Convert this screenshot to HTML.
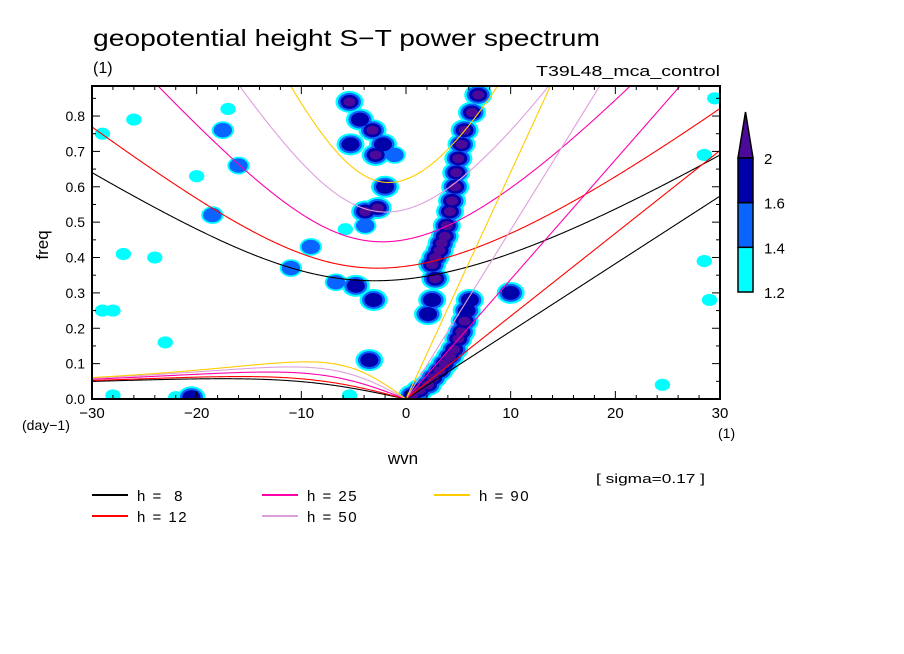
<!DOCTYPE html>
<html><head><meta charset="utf-8"><style>
body{margin:0;background:#fff;}
svg{display:block;font-family:"Liberation Sans",sans-serif;}
#legend text{white-space:pre;}
</style></head><body>
<svg id="chart" width="904" height="654" viewBox="0 0 904 654">
<text x="93" y="46" font-size="23" textLength="507" lengthAdjust="spacingAndGlyphs">geopotential height S−T power spectrum</text>
<text x="93" y="73" font-size="16">(1)</text>
<text x="536" y="76" font-size="15" textLength="184" lengthAdjust="spacingAndGlyphs">T39L48_mca_control</text>
<clipPath id="clip"><rect x="92" y="86" width="628" height="313"/></clipPath>
<g id="blobs" clip-path="url(#clip)"></g>
<g id="curves" clip-path="url(#clip)"></g>
<rect x="92" y="86" width="628" height="313" fill="none" stroke="#000" stroke-width="2"/>
<g id="axes"></g>
<text transform="translate(48,245) rotate(-90)" font-size="17" text-anchor="middle">freq</text>
<text x="22" y="430" font-size="14">(day−1)</text>
<text x="718" y="438" font-size="14">(1)</text>
<text x="403" y="464" font-size="17" text-anchor="middle">wvn</text>
<text x="596" y="483" font-size="13" textLength="109" lengthAdjust="spacingAndGlyphs">[ sigma=0.17 ]</text>
<g id="colorbar"></g>
<g id="legend"></g>
</svg>
<script>
const depths=[8,12,25,50,90];
const depthColors=["#000000","#ff0000","#ff00aa","#dda0dd","#ffcc00"];
const xTicks=[-30,-20,-10,0,10,20,30];
const yTicks=[0,0.1,0.2,0.3,0.4,0.5,0.6,0.7,0.8];
const cbLevels=[1.2,1.4,1.6,2];
const levelColors=["#00ffff","#0a64ff","#0000aa","#4b0a9a"];
// power blobs: wavenumber, frequency, level (1..4)
const blobK=[6.9,6.3,5.6,5.3,5.0,4.8,4.7,4.4,4.2,3.9,3.7,3.4,3.2,2.8,2.5,2.8,2.5,2.1,
 6.1,5.8,5.6,5.3,5.0,4.6,4.2,3.7,3.2,2.6,2.1,1.3,0.6,
 -5.4,-4.4,-3.2,-2.2,-2.9,-5.3,-1.1,-2.0,-2.7,-3.9,-3.9,-4.8,-3.1,-6.7,-5.8,
 -26,-29,-17,-17.5,-16,-20,-18.5,-9.1,-11,-24,-27,-29,-28,-23,-3.5,-5.4,24.5,28.5,29,29.5,28.5,10,-22,-28,-20.5];
const blobF=[0.86,0.81,0.76,0.72,0.68,0.64,0.60,0.56,0.53,0.49,0.46,0.44,0.42,0.40,0.38,0.34,0.28,0.24,
 0.28,0.25,0.22,0.19,0.17,0.14,0.12,0.10,0.08,0.06,0.04,0.025,0.01,
 0.84,0.79,0.76,0.72,0.69,0.72,0.69,0.6,0.54,0.53,0.49,0.32,0.28,0.33,0.48,
 0.79,0.75,0.82,0.76,0.66,0.63,0.52,0.43,0.37,0.4,0.41,0.25,0.25,0.16,0.11,0.01,0.04,0.39,0.28,0.85,0.69,0.30,0.005,0.01,0.005];
const blobL=[4,4,4,4,4,4,4,4,4,4,4,4,4,4,4,4,3,3,
 3,3,4,4,4,4,4,4,4,4,4,4,4,
 4,3,4,3,4,3,2,3,4,4,2,3,3,2,1,
 1,1,1,2,2,1,2,2,2,1,1,1,1,1,3,1,1,1,1,1,1,3,1,1,3];
const NS="http://www.w3.org/2000/svg";
const x0=92,x1=720,yb=399,yt=86,fmax=(399-86)/353.7;
const X=k=>x0+(k+30)/60*(x1-x0);
const Y=f=>yb-f/fmax*(yb-yt);
function el(t,a,p){const e=document.createElementNS(NS,t);for(const k in a)e.setAttribute(k,a[k]);p.appendChild(e);return e;}
const bg=document.getElementById('blobs');
const rx=[14,11.5,9,6],ry=[11,9,7,4.5];
for(let lv=0;lv<4;lv++){
 for(let i=0;i<blobK.length;i++){
  if(blobL[i]<=lv)continue;
  const sc=blobL[i]===1?0.55:(blobL[i]===2?0.8:1);
  const e=el('ellipse',{cx:X(blobK[i]),cy:Y(blobF[i]),rx:rx[lv]*sc,ry:ry[lv]*sc,fill:levelColors[lv]},bg);
  
  
 }
}
const cg=document.getElementById('curves');
const a=6.371e6,beta=2*7.292e-5/a,g=9.81,toCpd=86400/(2*Math.PI);
function roots(km,c){const p=-c*c*(km*km+3*beta/c),q=-beta*km*c*c;
 const m=2*Math.sqrt(-p/3),th=Math.acos(Math.max(-1,Math.min(1,3*q/(2*p)*Math.sqrt(-3/p))))/3;
 return [0,1,2].map(j=>m*Math.cos(th-2*Math.PI*j/3)).sort((u,v)=>u-v);}
depths.forEach((h,i)=>{
 const c=Math.sqrt(g*h);let ig=[],er=[],kv=[];
 for(let k=-30;k<=30.001;k+=0.1){const r=roots(k/a,c);
  ig.push(X(k)+','+Y(r[2]*toCpd));
  if(k<=0.001)er.push(X(k)+','+Y(Math.max(0,r[1])*toCpd));
  if(k>=-0.001)kv.push(X(k)+','+Y(k/a*c*toCpd));}
 [[ig,'ig-curve'],[er,'er-curve'],[kv,'kelvin-curve']].forEach(([pts,n])=>{
  const e=el('polyline',{points:pts.join(' '),fill:'none',stroke:depthColors[i],'stroke-width':1.1},cg);
  
  });
});
const ag=document.getElementById('axes');
for(let k=-30;k<=30;k+=2){const big=k%10===0;
 el('line',{x1:X(k),x2:X(k),y1:yb,y2:yb-(big?8:4),stroke:'#000'},ag);
 el('line',{x1:X(k),x2:X(k),y1:yt,y2:yt+(big?8:4),stroke:'#000'},ag);}
for(let f=0;f<=0.86;f+=0.05){const big=Math.round(f*20)%2===0;
 el('line',{x1:x0,x2:x0+(big?8:4),y1:Y(f),y2:Y(f),stroke:'#000'},ag);
 el('line',{x1:x1,x2:x1-(big?8:4),y1:Y(f),y2:Y(f),stroke:'#000'},ag);}
xTicks.forEach(k=>{const t=el('text',{x:X(k),y:418,'font-size':15,'text-anchor':'middle'},ag);t.textContent=k<0?'−'+(-k):k;
 });
yTicks.forEach(f=>{const t=el('text',{x:85,y:Y(f)+5,'font-size':14,'text-anchor':'end'},ag);t.textContent=f.toFixed(1);
 });
const cb=document.getElementById('colorbar');
const cbx=738,cbw=15,seg=44.7,cbBottom=292;
for(let i=0;i<3;i++){const e=el('rect',{x:cbx,y:cbBottom-(i+1)*seg,width:cbw,height:seg,fill:levelColors[i],stroke:'#000','stroke-width':1.5},cb);
 }
const tri=el('polygon',{points:`${cbx},${cbBottom-3*seg} ${cbx+cbw},${cbBottom-3*seg} ${cbx+cbw/2},112`,fill:levelColors[3],stroke:'#000','stroke-width':1.5},cb);

cbLevels.forEach((v,i)=>{const t=el('text',{x:764,y:cbBottom-i*seg+6,'font-size':15},cb);t.textContent=v;
 });
const lg=document.getElementById('legend');
const lx=[92,92,262,262,434],ly=[495,516,495,516,495];
depths.forEach((h,i)=>{
 const l=el('line',{x1:lx[i],x2:lx[i]+36,y1:ly[i],y2:ly[i],stroke:depthColors[i],'stroke-width':2},lg);
 
 const t=el('text',{x:lx[i]+45,y:ly[i]+6,'font-size':15,'letter-spacing':'1.5'},lg);
 t.textContent='h = '+(h<10?' ':'')+h;
 });
</script>
</body></html>
